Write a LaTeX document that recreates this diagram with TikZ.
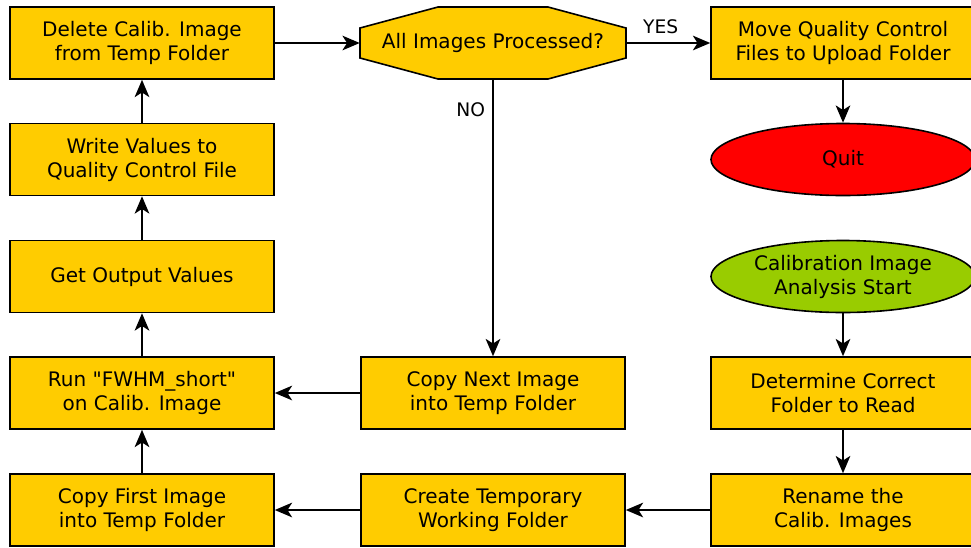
\documentclass[tikz,border=0pt]{standalone}
\usepackage{fontspec}
\setmainfont{DejaVu Sans}[Ligatures=TeXOff]
\usetikzlibrary{shapes.geometric,arrows.meta}
\definecolor{boxgold}{HTML}{FFCC00}
\definecolor{quitred}{HTML}{FF0000}
\definecolor{startgreen}{HTML}{99CC00}
\tikzset{
  px/.style={x=0.75pt,y=-0.75pt},
  txt/.style={font=\fontsize{15}{18}\selectfont},
  stepbox/.style={draw=black,line width=1.2pt,fill=boxgold,rectangle,
    minimum width=198pt,minimum height=54pt,inner sep=0pt,align=center,txt},
  endoval/.style={draw=black,line width=1.2pt,ellipse,
    minimum width=198pt,minimum height=54pt,inner sep=0pt,align=center,txt},
  flow/.style={draw=black,line width=1.2pt,-{Stealth[length=13pt,width=11pt,inset=3.5pt]}},
  edgelabel/.style={font=\fontsize{14}{16}\selectfont}
}
\begin{document}
\begin{tikzpicture}[px]
\useasboundingbox (0,0) rectangle (971,547);
\fill[white] (0,0) rectangle (971,547);

% left column
\node[stepbox] (delete) at (142,43) {Delete Calib. Image\\from Temp Folder};
\node[stepbox] (write)  at (142,159.5) {Write Values to\\Quality Control File};
\node[stepbox] (output) at (142,276.5) {Get Output Values};
\node[stepbox] (run)    at (142,393) {Run "FWHM\_short"\\on Calib. Image};
\node[stepbox] (first)  at (142,510) {Copy First Image\\into Temp Folder};

% middle column: octagonal decision, outline drawn around its text node
\draw[line width=1.2pt,fill=boxgold,shift={(493,43)}]
  (-55,-36) -- (55,-36) -- (133,-15) -- (133,15) -- (55,36) -- (-55,36) --
  (-133,15) -- (-133,-15) -- cycle;
\node[minimum width=199.5pt,minimum height=54pt,inner sep=0pt,txt]
  (done) at (493,43) {All Images Processed?};
\node[stepbox] (next)   at (493,393) {Copy Next Image\\into Temp Folder};
\node[stepbox] (create) at (493,510) {Create Temporary\\Working Folder};

% right column
\node[stepbox] (move)   at (843,43) {Move Quality Control\\Files to Upload Folder};
\node[endoval,fill=quitred] (quit) at (843,159.5) {Quit};
\node[endoval,fill=startgreen] (start) at (843,276.5) {Calibration Image\\Analysis Start};
\node[stepbox] (folder) at (843,393) {Determine Correct\\Folder to Read};
\node[stepbox] (rename) at (843,510) {Rename the\\Calib. Images};

% connectors
\draw[flow] (start) -- (folder);
\draw[flow] (folder) -- (rename);
\draw[flow] (rename) -- (create);
\draw[flow] (create) -- (first);
\draw[flow] (first) -- (run);
\draw[flow] (run) -- (output);
\draw[flow] (output) -- (write);
\draw[flow] (write) -- (delete);
\draw[flow] (delete.east) -- (done.west);
\draw[flow] (done.east) -- node[edgelabel,above,pos=0.41,yshift=3pt] {YES} (move.west);
\draw[flow] (done.south) -- node[edgelabel,pos=0.11,left,xshift=-2pt] {NO} (next.north);
\draw[flow] (next) -- (run);
\draw[flow] (move) -- (quit);
\end{tikzpicture}
\end{document}
